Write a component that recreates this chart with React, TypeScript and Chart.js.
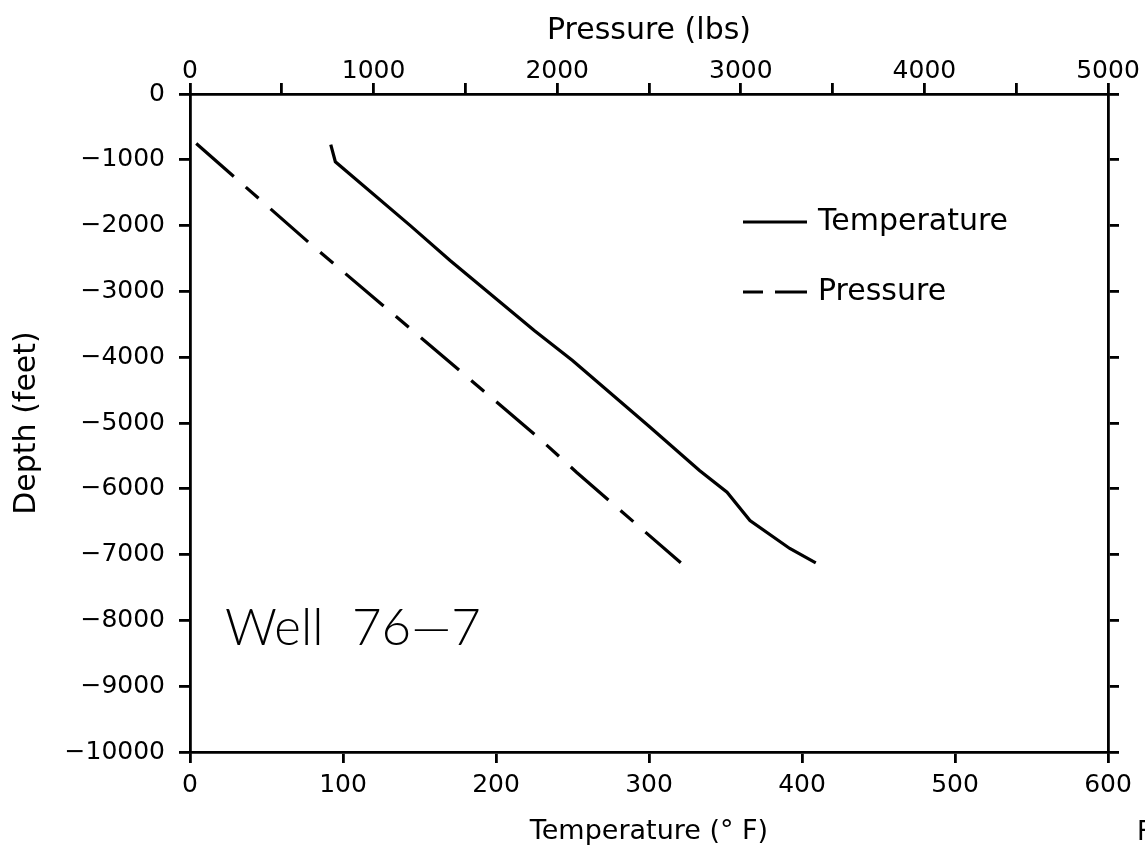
import React, { useEffect, useRef } from "react";
import { Chart, registerables } from "chart.js";

Chart.register(...registerables);

// Temperature profile (°F vs depth ft)
const tempDepth = [-770, -1030, -2000, -2530, -3594, -4050, -5050, -5722, -6052, -6482, -6907, -7125];
const tempValues = [92, 95, 144, 170, 225, 250, 300, 333, 351, 366, 392, 409];

// Pressure profile (lbs vs depth ft)
const pressDepth = [-752, -2277, -3772, -5240, -5748, -7125];
const pressValues = [34, 655, 1287, 1905, 2105, 2673];

// Axis ranges / ticks
const tempTicks = [0, 100, 200, 300, 400, 500, 600];
const pressTicks = [0, 1000, 2000, 3000, 4000, 5000];
const depthTicks = [0, -1000, -2000, -3000, -4000, -5000, -6000, -7000, -8000, -9000, -10000];

const seriesNames = ["Temperature", "Pressure"];
const wellLabel = ["Well", "76—7"];

const W = 1145;
const H = 849;
const PLOT_LEFT = 190;
const PLOT_RIGHT = 1108;
const PLOT_TOP = 94;
const PLOT_BOTTOM = 752;

const tickFont = { family: "'DejaVu Sans'", size: 25 };

const fmtDepth = (v: number) => (v < 0 ? "\u2212" + Math.abs(v) : String(v));

const annotations = {
  id: "annotations",
  afterDraw(chart: any) {
    const ctx = chart.ctx;
    ctx.save();
    ctx.strokeStyle = "#000";
    ctx.fillStyle = "#000";
    ctx.lineWidth = 3.2;
    // legend: temperature
    ctx.beginPath();
    ctx.moveTo(743, 222);
    ctx.lineTo(807, 222);
    ctx.stroke();
    // legend: pressure
    ctx.beginPath();
    ctx.moveTo(743, 292);
    ctx.lineTo(763, 292);
    ctx.moveTo(775, 292);
    ctx.lineTo(807, 292);
    ctx.stroke();
    ctx.font = "30px 'DejaVu Sans'";
    ctx.textBaseline = "middle";
    ctx.textAlign = "left";
    ctx.fillText(seriesNames[0], 818, 222);
    ctx.fillText(seriesNames[1], 818, 292);
    // well label
    ctx.font = "300 51px Lato, 'Liberation Sans'";
    ctx.textBaseline = "alphabetic";
    ctx.fillText(wellLabel[0], 225, 645);
    ctx.fillText(wellLabel[1], 352, 645);
    // stray partial caption at the corner
    ctx.font = "26px 'DejaVu Sans'";
    ctx.textBaseline = "middle";
    ctx.fillText("F", 1137, 833);
    ctx.restore();
  },
};

const axisCommon = {
  grid: { drawOnChartArea: false, drawTicks: true, tickLength: 11, color: "#000", lineWidth: 2.8 },
  border: { display: true, color: "#000", width: 2.8 },
};

export default function App() {
  const ref = useRef<HTMLCanvasElement | null>(null);

  useEffect(() => {
    if (!ref.current) return;
    const chart = new Chart(ref.current, {
      type: "scatter",
      data: {
        datasets: [
          {
            label: seriesNames[0],
            data: tempValues.map((t, i) => ({ x: t, y: tempDepth[i] })),
            xAxisID: "x",
            yAxisID: "y",
            showLine: true,
            borderColor: "#000",
            borderWidth: 3.2,
            pointRadius: 0,
            tension: 0,
          },
          {
            label: seriesNames[1],
            data: pressValues.map((p, i) => ({ x: p, y: pressDepth[i] })),
            xAxisID: "x2",
            yAxisID: "y",
            showLine: true,
            borderColor: "#000",
            borderWidth: 3.2,
            borderDash: [50, 16, 17, 16],
            pointRadius: 0,
            tension: 0,
          },
        ],
      },
      options: {
        responsive: false,
        animation: false,
        events: [],
        layout: { padding: 0 },
        plugins: { legend: { display: false }, tooltip: { enabled: false } },
        scales: {
          x: {
            type: "linear",
            axis: "x",
            position: "bottom",
            min: tempTicks[0],
            max: tempTicks[tempTicks.length - 1],
            ...axisCommon,
            ticks: {
              stepSize: 100,
              autoSkip: false,
              maxRotation: 0,
              color: "#000",
              font: tickFont,
              padding: 7,
            },
            title: {
              display: true,
              text: "Temperature (° F)",
              color: "#000",
              font: { family: "'DejaVu Sans'", size: 27 },
              padding: { top: 0, bottom: 1 },
            },
            afterFit: (s: any) => {
              s.height = H - PLOT_BOTTOM;
            },
          },
          x2: {
            type: "linear",
            axis: "x",
            position: "top",
            min: pressTicks[0],
            max: pressTicks[pressTicks.length - 1],
            ...axisCommon,
            ticks: {
              stepSize: 500,
              autoSkip: false,
              maxRotation: 0,
              color: "#000",
              font: tickFont,
              padding: -3,
              callback: (v: any) => (pressTicks.includes(v) ? String(v) : ""),
            },
            title: {
              display: true,
              text: "Pressure (lbs)",
              color: "#000",
              font: { family: "'DejaVu Sans'", size: 30 },
              padding: { top: 13, bottom: 0 },
            },
            afterFit: (s: any) => {
              s.height = PLOT_TOP;
            },
          },
          y: {
            type: "linear",
            axis: "y",
            position: "left",
            min: depthTicks[depthTicks.length - 1],
            max: depthTicks[0],
            ...axisCommon,
            ticks: {
              stepSize: 1000,
              autoSkip: false,
              color: "#000",
              font: tickFont,
              padding: 14,
              callback: (v: any) => fmtDepth(v),
            },
            title: {
              display: true,
              text: "Depth (feet)",
              color: "#000",
              font: { family: "'DejaVu Sans'", size: 30 },
              padding: { top: 9, bottom: 0 },
            },
            afterFit: (s: any) => {
              s.width = PLOT_LEFT;
            },
          },
          y2: {
            type: "linear",
            axis: "y",
            position: "right",
            min: depthTicks[depthTicks.length - 1],
            max: depthTicks[0],
            ...axisCommon,
            ticks: { stepSize: 1000, autoSkip: false, display: false },
            afterFit: (s: any) => {
              s.width = W - PLOT_RIGHT;
            },
          },
        },
      },
      plugins: [annotations],
    } as any);
    return () => chart.destroy();
  }, []);

  return (
    <div style={{ position: "absolute", left: 0, top: 0, width: W, height: H, background: "#fff" }}>
      <canvas ref={ref} width={W} height={H} style={{ display: "block" }} />
    </div>
  );
}
